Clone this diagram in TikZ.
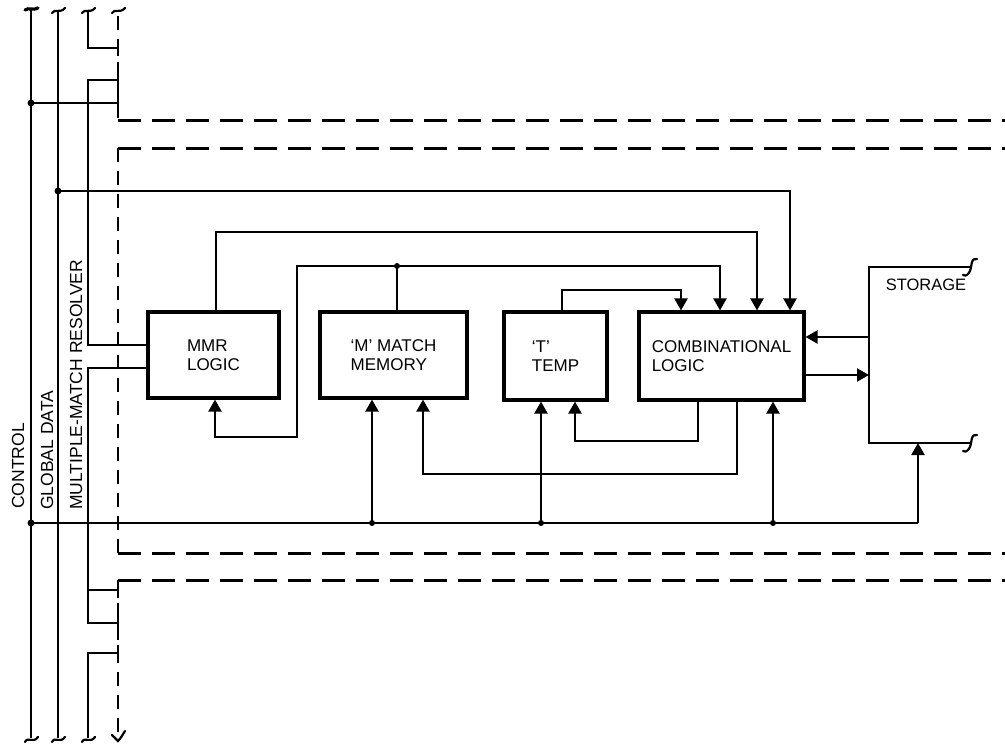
\documentclass[tikz,border=0pt]{standalone}
\usepackage{fontspec}
\setmainfont{Liberation Sans}
\usetikzlibrary{arrows.meta,calc}
\tikzset{
  bus/.style={line width=1.6pt},
  wire/.style={line width=2.1pt},
  blk/.style={draw, line width=3.1pt, inner sep=0pt, align=left, font=\fontsize{17}{19}\selectfont},
  arr/.style={wire, -{Triangle[width=13pt,length=12pt]}},
  dashH/.style={line width=3pt, dash pattern=on 23pt off 11pt},
  dashV/.style={line width=2.8pt, dash pattern=on 14pt off 9pt},
  tbar/.style={line width=2.6pt},
  jdot/.style={circle, fill, inner sep=0pt, minimum size=7pt},
  lbl/.style={font=\fontsize{17.5}{20}\selectfont, rotate=90, anchor=west, inner sep=0pt},
  endmark/.style={line width=2.2pt, line cap=round},
  txt/.style={font=\fontsize{16.5}{19}\selectfont, inner sep=0pt}
}
\begin{document}
\begin{tikzpicture}[x=1pt,y=-1pt]
\useasboundingbox[fill=white] (0,0) rectangle (1005,744);

% ---- blocks
\node[blk, minimum width=131pt, minimum height=86pt] (mmr) at (213.5,355) {MMR\\LOGIC};
\node[blk, minimum width=147pt, minimum height=86pt] (mem) at (393.5,355) {`M' MATCH\\MEMORY};
\node[blk, minimum width=103pt, minimum height=88pt] (tmp) at (555.5,356) {`T'\\TEMP};
\node[blk, minimum width=165pt, minimum height=88pt] (comb) at (721.5,356) {COMBINATIONAL\\LOGIC};

% ---- storage
\coordinate (stTL) at (869,267);
\coordinate (stBL) at (869,443);
\coordinate (stTR) at (971,267);
\coordinate (stBR) at (971,443);
\draw[line width=2.8pt] (stTR) -- (stTL) -- (stBL) -- (stBR);
\draw[endmark] (977,259) .. controls (971,258) and (972,264) .. (stTR) .. controls (970,274) and (966,277) .. (963,275);
\draw[endmark] (977,435) .. controls (971,434) and (972,440) .. (stBR) .. controls (970,450) and (966,453) .. (963,451);
\node[txt] (stLbl) at (926,285) {STORAGE};

% ---- bus lines
\coordinate (ctlT) at (31,10);  \coordinate (ctlB) at (31,738);
\coordinate (gdT) at (58,11);   \coordinate (gdB) at (58,738);
\draw[bus] (ctlT) -- (ctlB);
\draw[bus] (gdT) -- (gdB);

% multiple-match resolver chain
\coordinate (mrIn) at ($(mmr.west)+(0,-10)$);
\coordinate (mrOut) at ($(mmr.west)+(0,13)$);
\draw[bus] (88,11) -- (88,48) -- (118,48);
\draw[bus] (118,80) -- (88,80) |- (mrIn);
\draw[bus] (mrOut) -| (88,623) -- (118,623);
\draw[bus] (88,590) -- (118,590);
\draw[bus] (118,653) -- (88,653) -- (88,738);

% control tap at top
\coordinate (ctlTap2) at (31,103);
\draw[wire] (ctlTap2) -- (118,103);

% T-bars on cell boundary
\foreach \yy in {48,80,103,590,623,653}
  \draw[tbar] (118,\yy-8) -- (118,\yy+8);

% ---- dashed cell boundaries
\draw[dashV] (118,16) -- (118,118);
\draw[dashH] (118,120) -- (1005,120);
\draw[dashH] (118,148) -- (1005,148);
\draw[dashV] (118,148) -- (118,553);
\draw[dashH] (118,553) -- (1005,553);
\draw[dashH] (118,580) -- (1005,580);
\draw[dashV] (118,580) -- (118,734);

% ---- end marks
\draw[line width=3.2pt, line cap=round] (25,10) .. controls (29,7) and (33,11) .. (38,8);
\foreach \xx in {58,88,118}
  \draw[endmark] (\xx-6,13) .. controls (\xx-3,8) and (\xx+2,14) .. (\xx+7,8);
\foreach \xx in {31,58,88}
  \draw[endmark] (\xx-6,742) .. controls (\xx-3,736) and (\xx+2,744) .. (\xx+7,737);
\draw[endmark] (112,735) -- (118,741) .. controls (121,738) and (123,734) .. (125,731);

% ---- x positions of arrows
\coordinate (xA) at (681,0);
\coordinate (xB) at (720,0);
\coordinate (xC) at (757,0);
\coordinate (xD) at (790,0);
\coordinate (xMs) at (215,0);
\coordinate (xTs) at (575,0);
\coordinate (xMm) at (423,0);

% global data
\coordinate (gdTap) at (58,191);
\draw[arr] (gdTap) -| (comb.north -| xD);

% MMR logic top
\coordinate (mmrUp) at (216,232);
\draw[arr] (mmr.north -| mmrUp) -- (mmrUp) -| (comb.north -| xC);

% memory line
\coordinate (memJ) at (397,266);
\coordinate (memL) at (297,266);
\coordinate (memLow) at (297,437);
\draw[wire] (mem.north -| memJ) -- (memJ);
\draw[arr] (memJ) -- (memL) -- (memLow) -| (mmr.south -| xMs);
\draw[arr] (memJ) -| (comb.north -| xB);

% temp top
\coordinate (tmpUp) at (562,290);
\draw[arr] (tmp.north -| tmpUp) -- (tmpUp) -| (comb.north -| xA);

% comb bottom feedback
\coordinate (cb1) at (698,441);
\coordinate (cb2) at (737,474);
\draw[arr] (comb.south -| cb1) -- (cb1) -| (tmp.south -| xTs);
\draw[arr] (comb.south -| cb2) -- (cb2) -| (mem.south -| xMm);

% control bottom line
\coordinate (ctlTap) at (31,523);
\coordinate (ctlEnd) at (918,523);
\coordinate (stBot) at (918,443);
\coordinate (t1) at (372,523);
\coordinate (t2) at (541,523);
\coordinate (t3) at (773,523);
\draw[wire] (ctlTap) -- (ctlEnd);
\draw[arr] (ctlEnd) -- (stBot);
\draw[arr] (t1) -- (mem.south -| t1);
\draw[arr] (t2) -- (tmp.south -| t2);
\draw[arr] (t3) -- (comb.south -| t3);

% storage <-> comb
\coordinate (stA) at (869,337);
\coordinate (stB) at (869,375);
\draw[arr] (stA) -- (comb.east |- stA);
\draw[arr] (comb.east |- stB) -- (stB);

% junction dots
\node[jdot] (j1) at (ctlTap2) {};
\node[jdot] (j2) at (gdTap) {};
\node[jdot] (j3) at (ctlTap) {};
\node[jdot, minimum size=6pt] (j4) at (t1) {};
\node[jdot, minimum size=6pt] (j5) at (t2) {};
\node[jdot, minimum size=6pt] (j6) at (t3) {};
\node[jdot, minimum size=6pt] (j7) at (memJ) {};

% side labels
\node[lbl] (lCtl) at (18,509) {CONTROL};
\node[lbl] (lGd) at (47,510) {GLOBAL DATA};
\node[lbl] (lMmr) at (76,510) {MULTIPLE-MATCH RESOLVER};
\end{tikzpicture}
\end{document}
